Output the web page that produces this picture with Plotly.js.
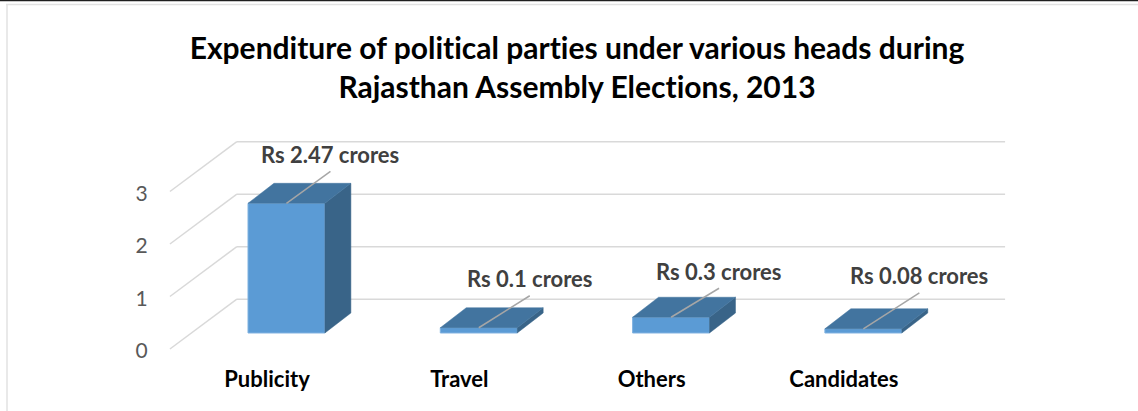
<!DOCTYPE html>
<html>
<head>
<meta charset="utf-8">
<script src="https://cdn.plot.ly/plotly-3.0.1.min.js"></script>
<style>html,body{margin:0;padding:0;background:#fff;overflow:hidden}#chart{width:1138px;height:411px}svg text{font-variant-ligatures:none !important;font-feature-settings:"liga" 0,"clig" 0}</style>
</head>
<body>
<div id="chart"></div>
<script>
// ---- data ----
const categories = ['Publicity', 'Travel', 'Others', 'Candidates'];
const expenditure = [2.47, 0.1, 0.3, 0.08];
const dataLabels = ['Rs 2.47 crores', 'Rs 0.1 crores', 'Rs 0.3 crores', 'Rs 0.08 crores'];
const yTicks = [0, 1, 2, 3];

// ---- style / projection ----
const pxX = 192.3, pxY = 52.5;
const barWidth = 0.4;
const barShiftX = 0.096, barBaseY = 0.305;
const barDepthX = 0.135, barDepthY = 0.381;
const wallDepthX = 0.348, wallDepthY = 0.95;
const floorLeft = -0.51, wallRight = 3.833;
const leaderPx = [[44, -32], [51, -32], [48, -29], [56, -36]];
const labelLiftPx = [17, 17, 17, 17];
const tickShiftX = -0.005;

const colFront = '#5B9BD5', colTop = '#42749F', colSide = '#396488', colGrid = '#D9D9D9';

const pos = categories.map((_, i) => i);
const centers = pos.map(p => p + barShiftX);

const sideX = [], sideY = [], topX = [], topY = [], leadX = [], leadY = [];
expenditure.forEach((v, i) => {
  const l = centers[i] - barWidth / 2, r = centers[i] + barWidth / 2, t = barBaseY + v;
  sideX.push(r, r + barDepthX, r + barDepthX, r, r, null);
  sideY.push(barBaseY, barBaseY + barDepthY, t + barDepthY, t, barBaseY, null);
  topX.push(l, r, r + barDepthX, l + barDepthX, l, null);
  topY.push(t, t, t + barDepthY, t + barDepthY, t, null);
  leadX.push(centers[i], centers[i] + leaderPx[i][0] / pxX, null);
  leadY.push(t, t - leaderPx[i][1] / pxY, null);
});

const traces = [
  {type: 'bar', x: centers, y: expenditure, base: expenditure.map(() => barBaseY), width: barWidth,
   marker: {color: colFront, line: {color: '#7FB2E0', width: 1}}, showlegend: false, hoverinfo: 'skip'},
  {type: 'scatter', mode: 'lines', x: sideX, y: sideY, fill: 'toself', fillcolor: colSide,
   line: {color: colSide, width: 0.5}, showlegend: false, hoverinfo: 'skip'},
  {type: 'scatter', mode: 'lines', x: topX, y: topY, fill: 'toself', fillcolor: colTop,
   line: {color: colTop, width: 0.5}, showlegend: false, hoverinfo: 'skip'},
  {type: 'scatter', mode: 'lines', x: leadX, y: leadY,
   line: {color: '#A6A6A6', width: 1.5}, showlegend: false, hoverinfo: 'skip'}
];

const plotLeft = 165, plotRight = 1010, plotTop = 130, plotBottom = 355;
const paperX = px => (px - plotLeft) / (plotRight - plotLeft);
const paperY = py => (plotBottom - py) / (plotBottom - plotTop);

const gridShapes = [];
yTicks.forEach(v => {
  gridShapes.push({type: 'line', layer: 'below', xref: 'x', yref: 'y', x0: floorLeft, y0: v,
    x1: floorLeft + wallDepthX, y1: v + wallDepthY, line: {color: colGrid, width: 1.5}});
  gridShapes.push({type: 'line', layer: 'below', xref: 'x', yref: 'y', x0: floorLeft + wallDepthX, y0: v + wallDepthY,
    x1: wallRight, y1: v + wallDepthY, line: {color: colGrid, width: 1.5}});
});
const frame = [
  {type: 'line', layer: 'below', xref: 'paper', yref: 'paper', x0: paperX(0), x1: paperX(1138), y0: paperY(0.5), y1: paperY(0.5), line: {color: '#1f1f1f', width: 1.5}},
  {type: 'line', layer: 'below', xref: 'paper', yref: 'paper', x0: paperX(6), x1: paperX(1138), y0: paperY(4.5), y1: paperY(4.5), line: {color: '#E2E2E2', width: 1.5}},
  {type: 'line', layer: 'below', xref: 'paper', yref: 'paper', x0: paperX(7), x1: paperX(7), y0: paperY(4), y1: paperY(411), line: {color: '#E2E2E2', width: 1.5}}
];

const annotations = dataLabels.map((txt, i) => ({
  xref: 'x', yref: 'y', x: centers[i] + leaderPx[i][0] / pxX,
  y: barBaseY + expenditure[i] - leaderPx[i][1] / pxY,
  text: txt, showarrow: false, yshift: labelLiftPx[i],
  font: {family: 'Lato, sans-serif', size: 22, color: '#404040', weight: 700}
}));

const layout = {
  width: 1138, height: 411,
  paper_bgcolor: '#fff', plot_bgcolor: '#fff',
  margin: {l: plotLeft, r: 1138 - plotRight, t: plotTop, b: 411 - plotBottom, pad: 0},
  title: {text: 'Expenditure of political parties under various heads during<br>Rajasthan Assembly Elections, 2013',
    x: 577 / 1138, xanchor: 'center', y: 1 - 58.5 / 411, yanchor: 'top',
    font: {family: 'Lato, sans-serif', size: 30, color: '#000', weight: 700}},
  xaxis: {range: [(plotLeft - 268) / pxX, (plotRight - 268) / pxX], tickmode: 'array', tickvals: pos.map(p => p + tickShiftX), ticktext: categories,
    showgrid: false, zeroline: false, showline: false, ticks: 'outside', ticklen: 5, tickcolor: 'rgba(0,0,0,0)',
    tickfont: {family: 'Lato, sans-serif', size: 22, color: '#000', weight: 700}, fixedrange: true},
  yaxis: {range: [(349 - plotBottom) / pxY, (349 - plotTop) / pxY], tickmode: 'array', tickvals: yTicks, ticktext: yTicks.map(String),
    showgrid: false, zeroline: false, showline: false, ticks: 'outside', ticklen: 12, tickcolor: 'rgba(0,0,0,0)', ticklabelshift: 2,
    tickfont: {family: 'Lato, sans-serif', size: 21, color: '#595959'}, fixedrange: true},
  shapes: gridShapes.concat(frame),
  annotations: annotations,
  showlegend: false
};
Plotly.newPlot('chart', traces, layout, {displayModeBar: false, staticPlot: true});
</script>
</body>
</html>
